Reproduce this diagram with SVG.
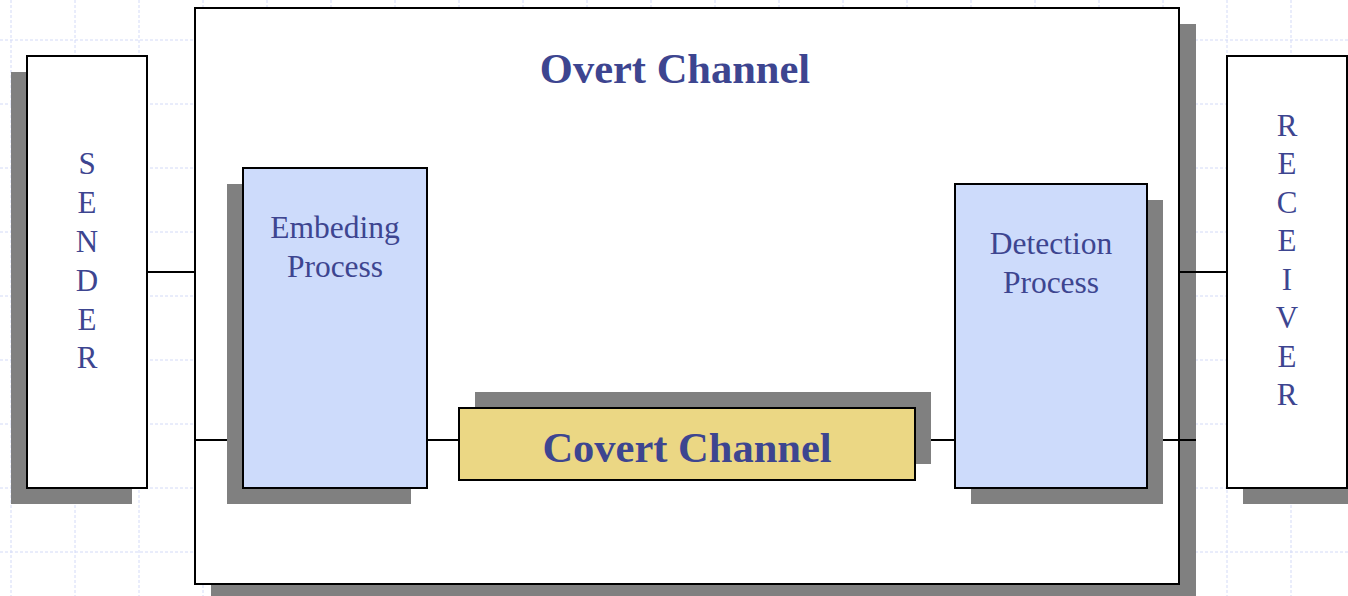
<svg xmlns="http://www.w3.org/2000/svg" width="1348" height="596" viewBox="0 0 1348 596">
<defs>
<style>
.grid line{stroke:#d3daf7;stroke-width:1;stroke-dasharray:3,2}
.sh{fill:#808080}
.box{stroke:#000;stroke-width:2}
.white{fill:#fff}
.blue{fill:#cddbfb}
.yellow{fill:#ebd784}
.conn line{stroke:#000;stroke-width:2}
text{font-family:"Liberation Serif","Times New Roman",serif;fill:#3d4590;text-anchor:middle}
.big{font-size:42.5px;font-weight:bold}
.mid{font-size:31.5px}
.let{font-size:31px}
</style>
</defs>
<rect width="1348" height="596" fill="#fff"/>
<g class="grid">
<line x1="11" y1="0" x2="11" y2="596"/><line x1="75" y1="0" x2="75" y2="596"/><line x1="139" y1="0" x2="139" y2="596"/><line x1="203" y1="0" x2="203" y2="596"/><line x1="267" y1="0" x2="267" y2="596"/><line x1="331" y1="0" x2="331" y2="596"/><line x1="395" y1="0" x2="395" y2="596"/><line x1="459" y1="0" x2="459" y2="596"/><line x1="523" y1="0" x2="523" y2="596"/><line x1="587" y1="0" x2="587" y2="596"/><line x1="651" y1="0" x2="651" y2="596"/><line x1="715" y1="0" x2="715" y2="596"/><line x1="779" y1="0" x2="779" y2="596"/><line x1="843" y1="0" x2="843" y2="596"/><line x1="907" y1="0" x2="907" y2="596"/><line x1="971" y1="0" x2="971" y2="596"/><line x1="1035" y1="0" x2="1035" y2="596"/><line x1="1099" y1="0" x2="1099" y2="596"/><line x1="1163" y1="0" x2="1163" y2="596"/><line x1="1227" y1="0" x2="1227" y2="596"/><line x1="1291" y1="0" x2="1291" y2="596"/>
<line x1="0" y1="40" x2="1348" y2="40"/><line x1="0" y1="104" x2="1348" y2="104"/><line x1="0" y1="168" x2="1348" y2="168"/><line x1="0" y1="232" x2="1348" y2="232"/><line x1="0" y1="296" x2="1348" y2="296"/><line x1="0" y1="360" x2="1348" y2="360"/><line x1="0" y1="424" x2="1348" y2="424"/><line x1="0" y1="488" x2="1348" y2="488"/><line x1="0" y1="552" x2="1348" y2="552"/>
</g>
<g id="overt">
<rect class="sh" x="211" y="24" width="985" height="577"/>
<rect class="box white" x="195" y="8" width="984" height="576"/>
<text class="big" x="675" y="83">Overt Channel</text>
</g>
<g id="connectors" class="conn">
<line x1="147" y1="272" x2="195" y2="272"/>
<line x1="195" y1="440" x2="227" y2="440"/>
<line x1="427" y1="440" x2="459" y2="440"/>
<line x1="915" y1="440" x2="955" y2="440"/>
<line x1="1163" y1="440" x2="1196" y2="440"/>
<line x1="1179" y1="272" x2="1227" y2="272"/>
</g>
<g id="embeding">
<rect class="sh" x="227" y="184" width="184" height="320"/>
<rect class="box blue" x="243" y="168" width="184" height="320"/>
<text class="mid" x="335" y="238">Embeding</text>
<text class="mid" x="335" y="277">Process</text>
</g>
<g id="covert">
<rect class="sh" x="475" y="392" width="456" height="72"/>
<rect class="box yellow" x="459" y="408" width="456" height="72"/>
<text class="big" x="687" y="462">Covert Channel</text>
</g>
<g id="detection">
<rect class="sh" x="971" y="200" width="192" height="304"/>
<rect class="box blue" x="955" y="184" width="192" height="304"/>
<text class="mid" x="1051" y="254">Detection</text>
<text class="mid" x="1051" y="293">Process</text>
</g>
<g id="sender">
<rect class="sh" x="11" y="72" width="121" height="432"/>
<rect class="box white" x="27" y="56" width="120" height="432"/>
<text class="let" x="87" y="174">S</text>
<text class="let" x="87" y="213">E</text>
<text class="let" x="87" y="252">N</text>
<text class="let" x="87" y="291">D</text>
<text class="let" x="87" y="330">E</text>
<text class="let" x="87" y="368">R</text>
</g>
<g id="receiver">
<rect class="sh" x="1243" y="72" width="120" height="432"/>
<rect class="box white" x="1227" y="56" width="120" height="432"/>
<text class="let" x="1287" y="136">R</text>
<text class="let" x="1287" y="174">E</text>
<text class="let" x="1287" y="213">C</text>
<text class="let" x="1287" y="251">E</text>
<text class="let" x="1287" y="290">I</text>
<text class="let" x="1287" y="328">V</text>
<text class="let" x="1287" y="367">E</text>
<text class="let" x="1287" y="405">R</text>
</g>
</svg>
